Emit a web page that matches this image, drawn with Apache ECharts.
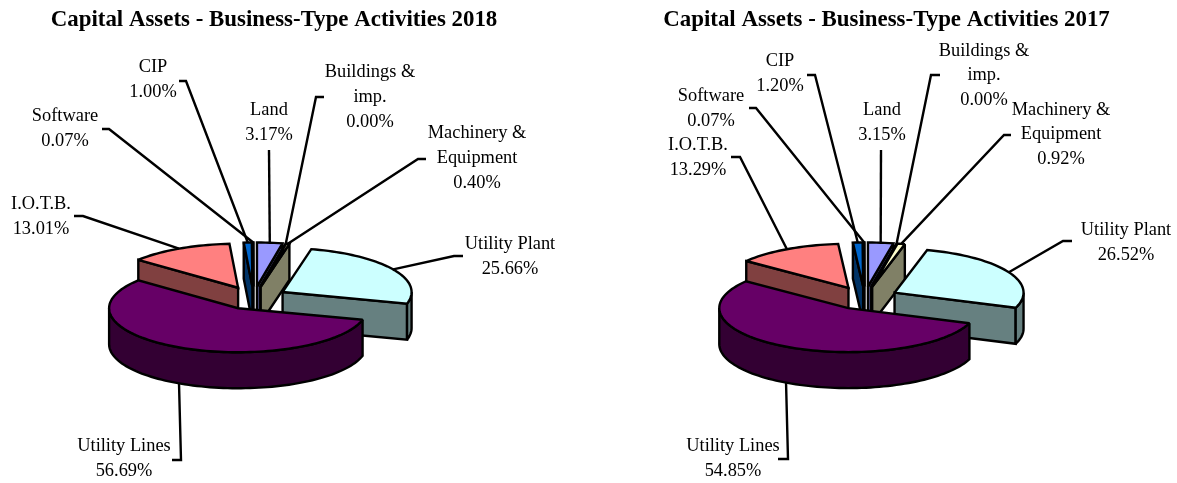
<!DOCTYPE html>
<html><head><meta charset="utf-8">
<style>html,body{margin:0;padding:0;background:#fff}#c{width:1177px;height:483px}</style>
<script src="https://cdn.jsdelivr.net/npm/echarts@6/dist/echarts.min.js"></script>
</head><body><div id="c"></div>
<script>
const categories = ["Land","Buildings & imp.","Machinery & Equipment","Utility Plant","Utility Lines","I.O.T.B.","CIP","Software"];
const categoryLines = [["Land"],["Buildings &","imp."],["Machinery &","Equipment"],["Utility Plant"],["Utility Lines"],["I.O.T.B."],["CIP"],["Software"]];
const values2018 = [3.17,0.00,0.40,25.66,56.69,13.01,1.00,0.07];
const values2017 = [3.15,0.00,0.92,26.52,54.85,13.29,1.20,0.07];
const title2018 = "Capital Assets - Business-Type Activities 2018";
const title2017 = "Capital Assets - Business-Type Activities 2017";

// styles and layout
const topColors = ["#9999FF","#993366","#FFFFCC","#CCFFFF","#660066","#FF8080","#0066CC","#CCCCFF"];
const sideColors = ["#4D4D80","#4D1A33","#808066","#668080","#330033","#804040","#003366","#666680"];
const pieGeom = {rx:129, ry:44, depth:36, explode:0.262, lw:2.4};
const center2018 = [253.6,298];
const center2017 = [864.6,298];
const labelPos2018 = [[269,122.5],[370,97],[477,158],[510,257],[124,459],[41,216.5],[153,80],[65,129]];
const labelPos2017 = [[882,122.5],[984,75.5],[1061,134.5],[1126,242.5],[733,459],[698,158],[780,74],[711,108.5]];
const elbows2018 = [[[269,150]],[[324,97],[316,97]],[[426,159],[418,159]],[[463,256],[454,256]],[[172,460],[181,460]],[[74,216],[83,216]],[[179,81],[186,81]],[[102,129],[109,129]]];
const elbows2017 = [[[881,150]],[[940,75],[931,75]],[[1011,135],[1004,135]],[[1072,241],[1063,241]],[[778,459],[788,459]],[[731,157],[740,157]],[[807,75],[815,75]],[[749,108],[756,108]]];
const labelFont = '18.4px "Liberation Serif"';

function pieItem(values, center, labelPos, elbows){
  const total = values.reduce((a,b)=>a+b,0);
  return function(params, api){
    const i = params.dataIndex, v = api.value(0);
    let acc = 0; for(let k=0;k<i;k++) acc += values[k];
    const a0 = acc/total*360, a1 = (acc+v)/total*360, mid=(a0+a1)/2;
    const g = pieGeom, rad=d=>d*Math.PI/180;
    const apex = [center[0]+g.explode*g.rx*Math.sin(rad(mid)), center[1]-g.explode*g.ry*Math.cos(rad(mid))];
    const pt = (d,dz)=>[apex[0]+g.rx*Math.sin(rad(d)), apex[1]-g.ry*Math.cos(rad(d))+(dz||0)];
    const arc = (from,to,dz)=>{const n=Math.max(1,Math.ceil(Math.abs(to-from)/2)),o=[];for(let s=0;s<=n;s++)o.push(pt(from+(to-from)*s/n,dz));return o;};
    const base = Math.round(100*(1-Math.cos(rad(mid))))*10+10;
    const st = fill=>({fill:fill,stroke:'#000',lineWidth:g.lw,lineJoin:'miter',miterLimit:2});
    const kids = [];
    const radial = d=>({type:'polygon',z2:base+1,shape:{points:[apex,pt(d),pt(d,g.depth),[apex[0],apex[1]+g.depth]]},style:st(sideColors[i])});
    if(a1<180) kids.push(radial(a1));
    if(a0>180) kids.push(radial(a0));
    const s0=Math.max(a0,90), s1=Math.min(a1,270);
    if(s1>s0) kids.push({type:'polygon',z2:base+2,shape:{points:arc(s0,s1,0).concat(arc(s1,s0,g.depth))},style:st(sideColors[i])});
    kids.push({type:'polygon',z2:base+3,shape:{points:[apex].concat(arc(a0,a1,0))},style:st(topColors[i])});
    const onFront = mid>90 && mid<270;
    kids.push({type:'polyline',z2:5000,shape:{points:elbows[i].concat([pt(mid,onFront?g.depth:0)])},style:{fill:null,stroke:'#000',lineWidth:g.lw}});
    kids.push({type:'text',z2:5001,style:{x:labelPos[i][0],y:labelPos[i][1],text:categoryLines[i].concat([v.toFixed(2)+'%']).join('\n'),font:labelFont,lineHeight:24.7,fill:'#000',align:'center',verticalAlign:'middle'}});
    return {type:'group',children:kids};
  };
}
function series(values,center,labelPos,elbows,name){
  return {type:'custom',name:name,coordinateSystem:'none',silent:true,clip:false,
    data:values.map((v,i)=>({name:categories[i],value:[v]})),
    renderItem:pieItem(values,center,labelPos,elbows)};
}
const chart = echarts.init(document.getElementById('c'),null,{renderer:'canvas'});
const titleStyle = {fontFamily:'"Liberation Serif"',fontWeight:'bold',fontSize:22.9,color:'#000'};
chart.setOption({
  animation:false,
  backgroundColor:'#fff',
  title:[
    {text:title2018,left:274,top:9,textAlign:'center',padding:0,textStyle:titleStyle},
    {text:title2017,left:886.5,top:9,textAlign:'center',padding:0,textStyle:titleStyle}
  ],
  series:[
    series(values2018,center2018,labelPos2018,elbows2018,'2018'),
    series(values2017,center2017,labelPos2017,elbows2017,'2017')
  ]
});
</script></body></html>
